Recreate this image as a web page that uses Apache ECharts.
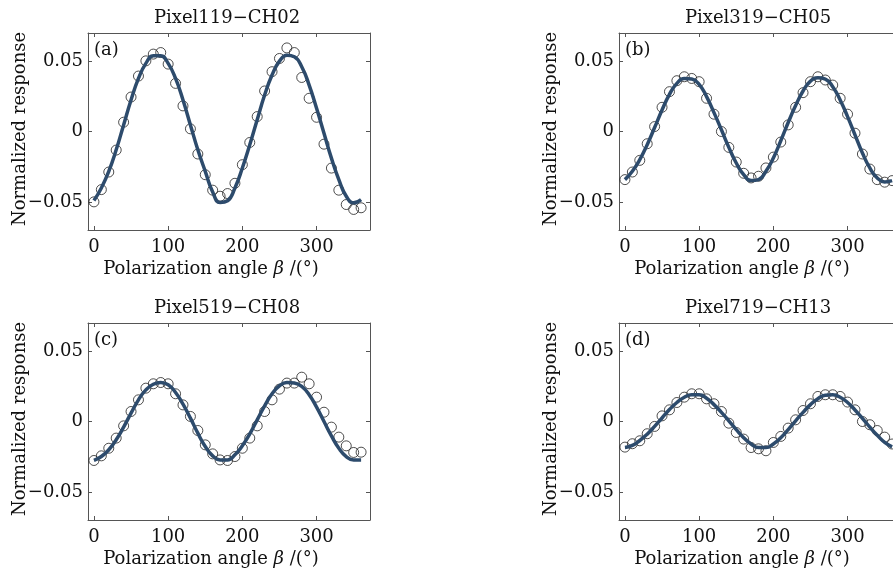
<!DOCTYPE html>
<html>
<head>
<meta charset="utf-8">
<title>Polarization response</title>
<style>
  html, body { margin: 0; padding: 0; background: #fff; }
  #main { width: 893px; height: 568px; }
</style>
<script src="https://cdn.jsdelivr.net/npm/echarts@6/dist/echarts.min.js"></script>
</head>
<body>
<div id="main"></div>
<script>
// polarization angle, degrees
var angles = [0, 10, 20, 30, 40, 50, 60, 70, 80, 90, 100, 110, 120, 130, 140, 150, 160, 170, 180,
  190, 200, 210, 220, 230, 240, 250, 260, 270, 280, 290, 300, 310, 320, 330, 340, 350, 360];

var titles = ['Pixel119\u2212CH02', 'Pixel319\u2212CH05', 'Pixel519\u2212CH08', 'Pixel719\u2212CH13'];
var letters = ['(a)', '(b)', '(c)', '(d)'];
var xTicks = [0, 100, 200, 300];
var yTicks = [-0.05, 0, 0.05];

// measured points (circles)
var pointsA = [-0.050, -0.0413, -0.0288, -0.0132, 0.0066, 0.0245, 0.0394, 0.0502, 0.0550, 0.0561,
  0.0479, 0.0342, 0.0182, 0.0019, -0.0160, -0.0307, -0.0417, -0.0460, -0.0441, -0.0368, -0.0236,
  -0.0078, 0.0106, 0.0288, 0.0425, 0.0519, 0.0594, 0.0561, 0.0384, 0.0236, 0.0101, -0.0090,
  -0.0260, -0.0417, -0.0519, -0.0554, -0.0542];
var pointsB = [-0.0342, -0.0288, -0.0205, -0.0087, 0.0035, 0.0172, 0.0283, 0.0361, 0.0389, 0.0377,
  0.0354, 0.0236, 0.0123, 0.0000, -0.0113, -0.0217, -0.0297, -0.0330, -0.0318, -0.0259, -0.0182,
  -0.0075, 0.0047, 0.0172, 0.0276, 0.0354, 0.0389, 0.0366, 0.0330, 0.0236, 0.0123, -0.0012,
  -0.0160, -0.0267, -0.0342, -0.0360, -0.0349];
var pointsC = [-0.0277, -0.0244, -0.0190, -0.0118, -0.0031, 0.0071, 0.0154, 0.0237, 0.0268, 0.0277,
  0.0268, 0.0197, 0.0118, 0.0036, -0.0064, -0.0166, -0.0230, -0.0273, -0.0277, -0.0249, -0.0190,
  -0.0118, -0.0031, 0.0071, 0.0154, 0.0230, 0.0273, 0.0273, 0.0315, 0.0268, 0.0173, 0.0066,
  -0.0040, -0.0111, -0.0173, -0.0220, -0.0218];
var pointsD = [-0.0182, -0.0158, -0.0137, -0.0087, -0.0035, 0.0040, 0.0083, 0.0135, 0.0173, 0.0197,
  0.0197, 0.0161, 0.0126, 0.0071, -0.0012, -0.0078, -0.0125, -0.0185, -0.0194, -0.0208, -0.0149,
  -0.0106, -0.0047, 0.0012, 0.0078, 0.0126, 0.0178, 0.0190, 0.0190, 0.0178, 0.0138, 0.0083,
  0.0000, -0.0023, -0.0064, -0.0111, -0.0160];

// fitted curves
var fitA = [-0.0491, -0.0401, -0.0283, -0.0130, 0.0047, 0.0224, 0.0377, 0.0484, 0.0538, 0.0538,
  0.0484, 0.0377, 0.0224, 0.0047, -0.0130, -0.0283, -0.0430, -0.0505, -0.0492, -0.0401, -0.0259,
  -0.0094, 0.0083, 0.0259, 0.0401, 0.0500, 0.0542, 0.0531, 0.0460, 0.0330, 0.0165, -0.0012,
  -0.0189, -0.0342, -0.0460, -0.0507, -0.0484];
var fitB = [-0.0342, -0.0283, -0.0200, -0.0094, 0.0028, 0.0153, 0.0264, 0.0342, 0.0377, 0.0373,
  0.0335, 0.0248, 0.0134, 0.0012, -0.0113, -0.0224, -0.0307, -0.0349, -0.0342, -0.0283, -0.0189,
  -0.0066, 0.0064, 0.0184, 0.0288, 0.0358, 0.0382, 0.0373, 0.0318, 0.0224, 0.0106, -0.0024,
  -0.0153, -0.0259, -0.0330, -0.0358, -0.0349];
var fitC = [-0.0277, -0.0249, -0.0201, -0.0130, -0.0040, 0.0059, 0.0154, 0.0225, 0.0265, 0.0277,
  0.0261, 0.0206, 0.0123, 0.0024, -0.0083, -0.0178, -0.0244, -0.0273, -0.0273, -0.0237, -0.0173,
  -0.0088, 0.0012, 0.0111, 0.0197, 0.0254, 0.0277, 0.0273, 0.0249, 0.0190, 0.0102, 0.0000,
  -0.0102, -0.0190, -0.0249, -0.0273, -0.0273];
var fitD = [-0.0185, -0.0170, -0.0135, -0.0090, -0.0035, 0.0025, 0.0085, 0.0135, 0.0172, 0.0190,
  0.0190, 0.0165, 0.0120, 0.0065, 0.0005, -0.0058, -0.0115, -0.0160, -0.0185, -0.0185, -0.0160,
  -0.0115, -0.0058, 0.0005, 0.0065, 0.0120, 0.0162, 0.0187, 0.0190, 0.0172, 0.0135, 0.0082,
  0.0022, -0.0040, -0.0098, -0.0148, -0.0180];

var points = [pointsA, pointsB, pointsC, pointsD];
var fits = [fitA, fitB, fitC, fitD];

var FONT = 'DejaVu Serif';
var FS = 18;
var FRAME = '#555';
var LINE = '#2d4b6c';

// panel boxes: left, top
var boxes = [[88, 33], [619, 33], [88, 323], [619, 323]];
var BW = 282, BH = 197;

function yFmt(v) {
  if (Math.abs(v) < 1e-9) return '0';
  return (v < 0 ? '\u2212' : '') + Math.abs(v).toFixed(2);
}

var grid = [], xAxis = [], yAxis = [], series = [], graphic = [];

boxes.forEach(function (b, i) {
  grid.push({ left: b[0], top: b[1], width: BW, height: BH, outerBoundsMode: 'none', containLabel: false });
  var axLine = { show: true, onZero: false, lineStyle: { color: FRAME, width: 1 } };
  var tick = { show: true, inside: true, length: 4, customValues: xTicks, lineStyle: { color: FRAME } };
  var ytick = { show: true, inside: true, length: 4, customValues: yTicks, lineStyle: { color: FRAME } };
  // bottom + top
  xAxis.push({
    gridIndex: i, type: 'value', min: -8, max: 372, position: 'bottom',
    axisLine: axLine, axisTick: tick, splitLine: { show: false },
    axisLabel: { customValues: xTicks, margin: 8, color: '#111', fontFamily: FONT, fontSize: FS }
  });
  xAxis.push({
    gridIndex: i, type: 'value', min: -8, max: 372, position: 'top',
    axisLine: axLine, axisTick: tick, splitLine: { show: false }, axisLabel: { show: false }
  });
  // left + right
  yAxis.push({
    gridIndex: i, type: 'value', min: -0.07, max: 0.07, position: 'left',
    axisLine: axLine, axisTick: ytick, splitLine: { show: false },
    axisLabel: { customValues: yTicks, formatter: yFmt, margin: 5, color: '#111', fontFamily: FONT, fontSize: FS }
  });
  yAxis.push({
    gridIndex: i, type: 'value', min: -0.07, max: 0.07, position: 'right',
    axisLine: axLine, axisTick: ytick, splitLine: { show: false }, axisLabel: { show: false }
  });

  series.push({
    type: 'line', xAxisIndex: 2 * i, yAxisIndex: 2 * i, smooth: true, showSymbol: false,
    lineStyle: { color: LINE, width: 3.5 },
    data: angles.map(function (a, k) { return [a, fits[i][k]]; })
  });
  series.push({
    type: 'scatter', xAxisIndex: 2 * i, yAxisIndex: 2 * i, symbol: 'circle', symbolSize: 10,
    itemStyle: { color: 'rgba(0,0,0,0)', borderColor: '#222', borderWidth: 1 },
    data: angles.map(function (a, k) { return [a, points[i][k]]; })
  });

  // texts
  graphic.push({
    type: 'text', x: b[0] + 139, y: b[1] - 15,
    style: { text: titles[i], font: FS + 'px "' + FONT + '"', fill: '#111', textAlign: 'center', textVerticalAlign: 'middle' }
  });
  graphic.push({
    type: 'text', x: b[0] + 6, y: b[1] + 17,
    style: { text: letters[i], font: FS + 'px "' + FONT + '"', fill: '#111', textAlign: 'left', textVerticalAlign: 'middle' }
  });
  graphic.push({
    type: 'text', x: b[0] - 68, y: b[1] + 96, rotation: Math.PI / 2,
    style: { text: 'Normalized response', font: FS + 'px "' + FONT + '"', fill: '#111', textAlign: 'center', textVerticalAlign: 'middle' }
  });
  graphic.push({
    type: 'text', x: b[0] + 123, y: b[1] + 236,
    style: {
      text: 'Polarization angle {b|\u03b2} /(\u00b0)',
      font: FS + 'px "' + FONT + '"', fill: '#111', textAlign: 'center', textVerticalAlign: 'middle',
      rich: { b: { fontStyle: 'italic', fontFamily: FONT, fontSize: FS, fill: '#111' } }
    }
  });
});

var chart = echarts.init(document.getElementById('main'));
chart.setOption({
  backgroundColor: '#fff',
  animation: false,
  grid: grid,
  xAxis: xAxis,
  yAxis: yAxis,
  series: series,
  graphic: graphic
});
</script>
</body>
</html>
